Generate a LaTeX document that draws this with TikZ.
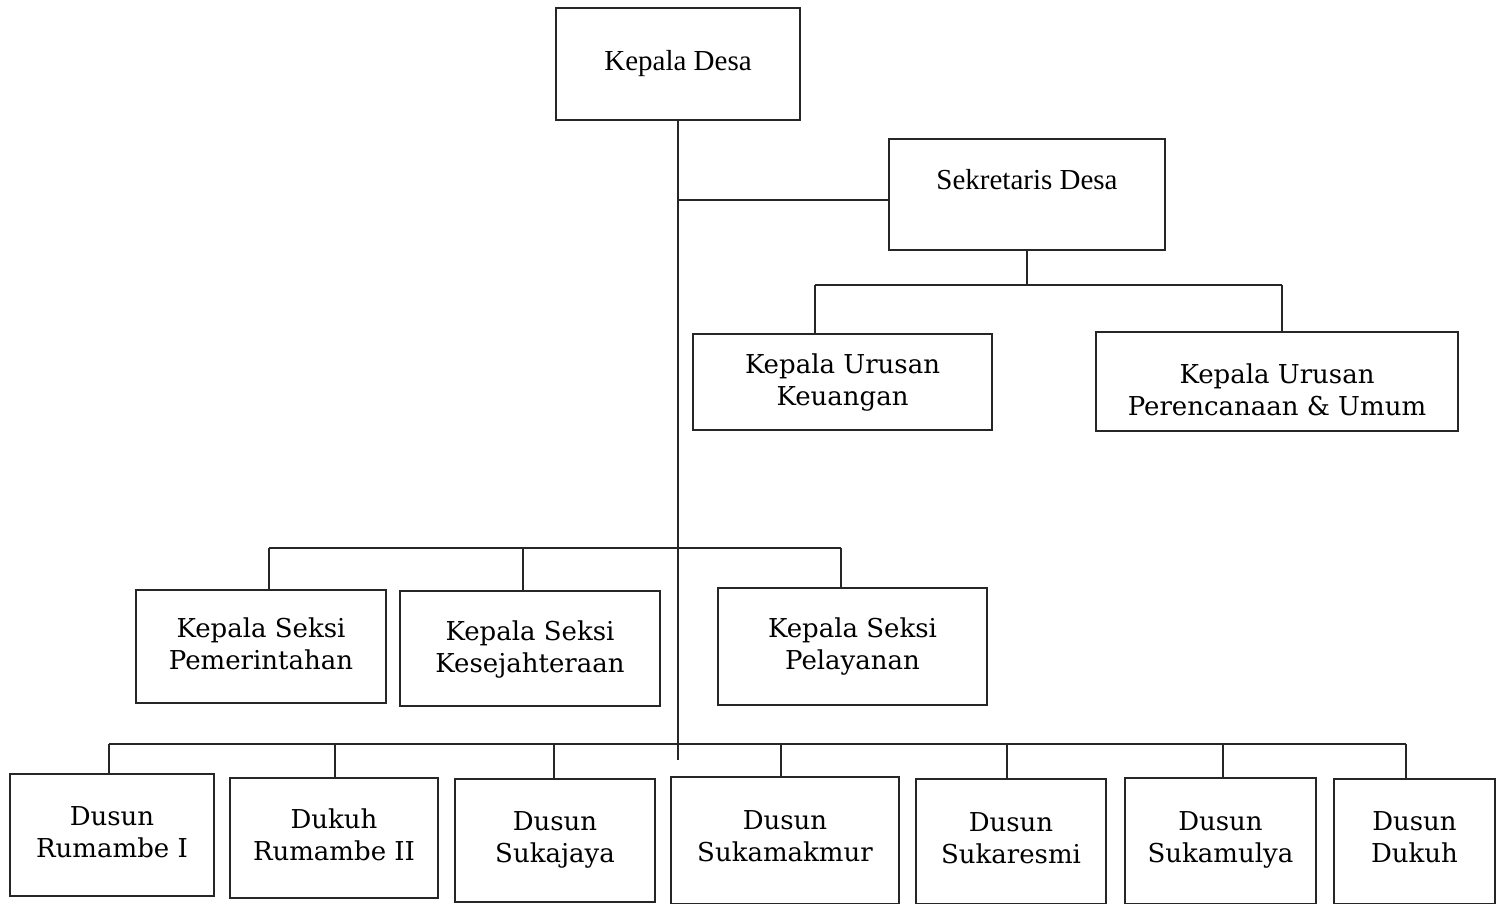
\documentclass[tikz,border=0pt]{standalone}
\usepackage{fontspec}
\setmainfont{DejaVu Serif}
\newfontfamily\tms{Liberation Serif}
\begin{document}
\begin{tikzpicture}[x=1pt,y=-1pt,
  box/.style={draw=black!85, line width=1.8pt, rectangle, inner sep=0pt, align=center,
    font=\fontsize{26}{32}\selectfont},
  topbox/.style={box, font=\tms\fontsize{29}{34}\selectfont},
  tx/.style={text height=70pt, text depth=#1},
  conn/.style={draw=black!85, line width=1.6pt}]
\useasboundingbox (0,0) rectangle (1505,904);
\fill[white] (0,0) rectangle (1505,904);

% boxes
\node[topbox, minimum width=244pt, minimum height=112pt, text depth=8pt] (kd) at (678,64) {Kepala Desa};
\node[topbox, minimum width=276pt, minimum height=111pt, text depth=30pt] (sd) at (1027,194.5) {Sekretaris Desa};
\node[box, tx=24pt, minimum width=299pt, minimum height=96pt] (ku1) at (842.5,382) {Kepala Urusan\\Keuangan};
\node[box, tx=2pt, minimum width=362pt, minimum height=99pt] (ku2) at (1277,381.5) {Kepala Urusan\\Perencanaan \& Umum};
\node[box, tx=24pt, minimum width=250pt, minimum height=113pt] (ks1) at (261,646.5) {Kepala Seksi\\Pemerintahan};
\node[box, tx=22pt, minimum width=260pt, minimum height=115pt] (ks2) at (530,648.5) {Kepala Seksi\\Kesejahteraan};
\node[box, tx=24pt, minimum width=269pt, minimum height=117pt] (ks3) at (852.5,646.5) {Kepala Seksi\\Pelayanan};
\node[box, tx=25pt, minimum width=204pt, minimum height=122pt] (d1) at (112,835) {Dusun\\Rumambe I};
\node[box, tx=25pt, minimum width=208pt, minimum height=120pt] (d2) at (334,838) {Dukuh\\Rumambe II};
\node[box, tx=26pt, minimum width=200pt, minimum height=123pt] (d3) at (555,840.5) {Dusun\\Sukajaya};
\node[box, tx=28pt, minimum width=228pt, minimum height=127pt] (d4) at (785,840.5) {Dusun\\Sukamakmur};
\node[box, tx=27pt, minimum width=190pt, minimum height=125pt] (d5) at (1011,841.5) {Dusun\\Sukaresmi};
\node[box, tx=27pt, minimum width=191pt, minimum height=126pt] (d6) at (1220.5,841) {Dusun\\Sukamulya};
\node[box, tx=29pt, minimum width=161pt, minimum height=125pt] (d7) at (1414.5,841.5) {Dusun\\Dukuh};

% coordinates
\coordinate (tb) at (678,760);
\coordinate (j1) at (678,200);
\coordinate (b1) at (815,285);
\coordinate (b2) at (1282,285);
\coordinate (c1) at (269,548);
\coordinate (c2) at (523,548);
\coordinate (c3) at (841,548);
\coordinate (e1) at (109,744);
\coordinate (e2) at (335,744);
\coordinate (e3) at (554,744);
\coordinate (e4) at (781,744);
\coordinate (e5) at (1007,744);
\coordinate (e6) at (1223,744);
\coordinate (e7) at (1406,744);

% connectors
\draw[conn] (kd.south) -- (tb);
\draw[conn] (j1) -- (j1 -| sd.west);
\draw[conn] (sd.south) -- (sd.south |- b1);
\draw[conn] (b1) -- (b2);
\draw[conn] (b1) -- (b1 |- ku1.north);
\draw[conn] (b2) -- (b2 |- ku2.north);
\draw[conn] (c1) -- (c3);
\draw[conn] (c1) -- (c1 |- ks1.north);
\draw[conn] (c2) -- (c2 |- ks2.north);
\draw[conn] (c3) -- (c3 |- ks3.north);
\draw[conn] (e1) -- (e7);
\draw[conn] (e1) -- (e1 |- d1.north);
\draw[conn] (e2) -- (e2 |- d2.north);
\draw[conn] (e3) -- (e3 |- d3.north);
\draw[conn] (e4) -- (e4 |- d4.north);
\draw[conn] (e5) -- (e5 |- d5.north);
\draw[conn] (e6) -- (e6 |- d6.north);
\draw[conn] (e7) -- (e7 |- d7.north);
\end{tikzpicture}
\end{document}
